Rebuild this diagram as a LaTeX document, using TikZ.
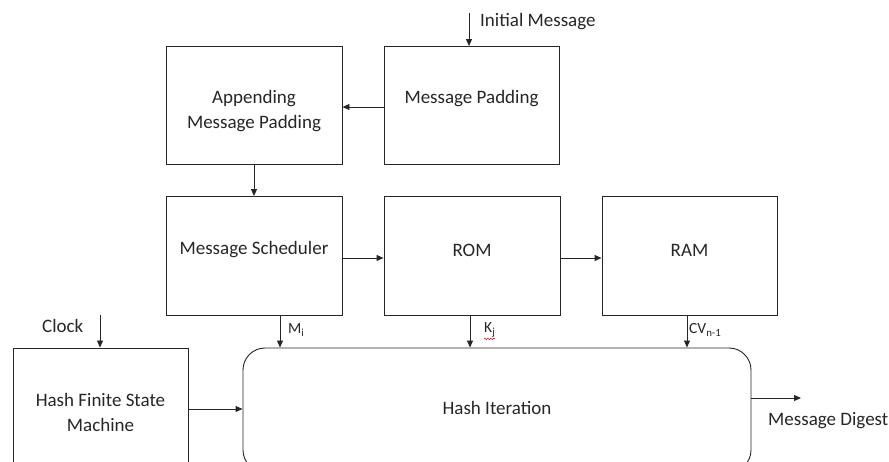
\documentclass[tikz,border=0pt]{standalone}
\usepackage{fontspec}
\setmainfont{Carlito}
\usetikzlibrary{arrows.meta,decorations.pathmorphing}

\begin{document}
\begin{tikzpicture}[x=1pt,y=-1pt,
  blk/.style={draw=black!85,line width=0.9pt,minimum width=176pt,minimum height=118pt,inner sep=0pt},
  txt/.style={font=\fontsize{19}{25}\selectfont,align=center,text=black!85},
  lbl/.style={font=\fontsize{15.5}{18}\selectfont,text=black!85,inner sep=0pt},
  conn/.style={draw=black!85,line width=0.9pt,-{Triangle[length=7pt,width=6pt]}}]
\useasboundingbox (0,0) rectangle (889,462);
\clip (0,0) rectangle (889,462);

% upper row
\node[blk] (ap) at (254,105.5) {};
\node[txt] at (254,111.5) {Appending\\Message Padding};
\node[blk,minimum width=175pt] (mp) at (471.5,105.5) {};
\node[txt] at (471.5,99) {Message Padding};

% middle row
\node[blk,minimum height=119pt] (ms) at (254,256) {};
\node[txt] at (254,250) {Message Scheduler};
\node[blk,minimum height=119pt] (rom) at (472,256) {};
\node[txt] at (472,250) {ROM};
\node[blk,minimum width=175pt,minimum height=119pt] (ram) at (689.5,256) {};
\node[txt] at (689.5,250) {RAM};

% bottom row
\node[blk,minimum width=175pt,minimum height=122pt] (fsm) at (100.5,409) {};
\node[txt] at (100.5,412) {Hash Finite State\\Machine};
\node[blk,rounded corners=22pt,minimum width=508pt,minimum height=124pt] (hash) at (497,410) {};
\node[txt] at (497,408) {Hash Iteration};

% inputs and outputs
\coordinate (im) at (469,13);
\coordinate (ck) at (100,315);
\coordinate (md) at (801,398);
\node[txt,anchor=west,inner sep=0pt] at (480,22) {Initial Message};
\node[txt,anchor=west,inner sep=0pt] at (42,326) {Clock};
\node[txt,anchor=west,inner sep=0pt] at (768,421) {Message Digest};

% connectors
\draw[conn] (im) -- (im |- mp.north);
\draw[conn] (mp.west |- 0,107) -- (ap.east |- 0,107);
\draw[conn] (ap.south) -- (ms.north);
\draw[conn] (ms.east |- 0,258) -- (rom.west |- 0,258);
\draw[conn] (rom.east |- 0,258) -- (ram.west |- 0,258);
\draw[conn] (ms.south -| 280,0) -- (hash.north -| 280,0);
\draw[conn] (rom.south -| 470,0) -- (hash.north -| 470,0);
\draw[conn] (ram.south -| 687,0) -- (hash.north -| 687,0);
\draw[conn] (ck) -- (ck |- fsm.north);
\draw[conn] (fsm.east |- 0,409) -- (hash.west |- 0,409);
\draw[conn] (hash.east |- md) -- (md);

% port labels
\node[lbl,anchor=west] (mi) at (288,330) {M\textsubscript{i}};
\node[lbl,anchor=west] (kj) at (484,330) {K\textsubscript{j}};
\draw[red!80!black,line width=0.5pt,decorate,decoration={snake,amplitude=0.8pt,segment length=3pt}]
  ([yshift=-1.5pt]kj.south west) -- ++(11,0);
\node[lbl,anchor=west] (cv) at (689,330) {CV\textsubscript{n-1}};
\end{tikzpicture}
\end{document}
